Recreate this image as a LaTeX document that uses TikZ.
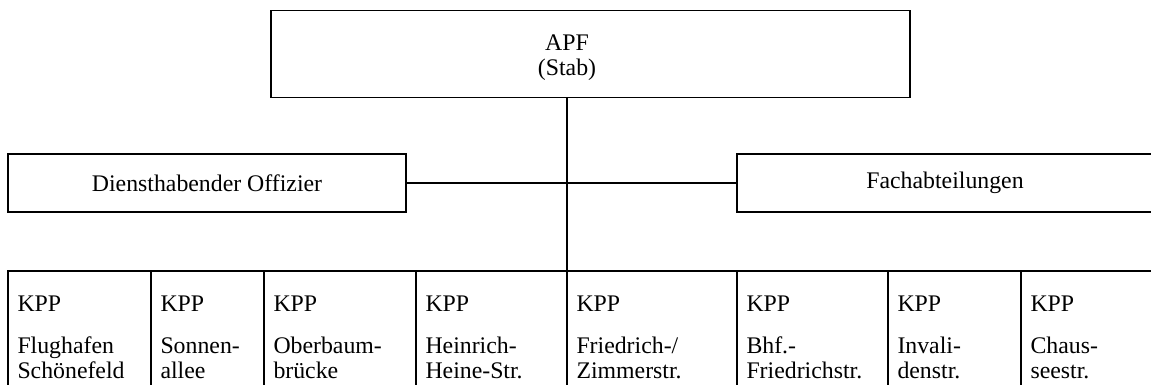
\documentclass[tikz,border=0pt]{standalone}
\usepackage{fontspec}
\setmainfont{Liberation Serif}
\begin{document}
\begin{tikzpicture}[x=1pt,y=-1pt,
  box/.style={draw,line width=1.6pt,rectangle,inner sep=0pt,outer sep=0pt},
  txt/.style={inner sep=0pt,outer sep=0pt,font=\fontsize{23.8}{24.5}\selectfont},
  rule/.style={line width=1.6pt}]
\useasboundingbox (0,0) rectangle (1151,385);
\clip (0,0) rectangle (1151,385);

% top: staff
\node[box,minimum width=639pt,minimum height=87pt] (apf) at (590.5,54) {};
\node[txt,align=center,anchor=north] (apftext) at (567,35) {APF\\(Stab)};

% middle row
\node[box,minimum width=398pt,minimum height=58pt,txt,draw] (dho) at (207,183)
  {Diensthabender Offizier};
\node[box,minimum width=416pt,minimum height=58pt,txt,draw] (fach) at (945,183)
  {Fachabteilungen};
\draw[rule] (dho.east) -- (fach.west);

% bottom row: border posts
\foreach \i/\l/\r/\name in {
  1/8/151/{Flughafen\\Schönefeld},
  2/151/264/{Sonnen-\\allee},
  3/264/416/{Oberbaum-\\brücke},
  4/416/567/{Heinrich-\\Heine-Str.},
  5/567/737/{Friedrich-/\\Zimmerstr.},
  6/737/888/{Bhf.-\\Friedrichstr.},
  7/888/1021/{Invali-\\denstr.},
  8/1021/1153/{Chaus-\\seestr.}}{
  \pgfmathsetmacro{\cx}{(\l+\r)/2}
  \pgfmathsetmacro{\w}{\r-\l}
  \node[box,minimum width=\w pt,minimum height=129pt] (k\i) at (\cx,335.5) {};
  \node[txt,align=left,anchor=north west] (t\i) at (\l+9.5,295.5)
    {KPP\\[18pt]\name};
}

\draw[rule] (apf.south -| k5.north west) -- (k5.north west);
\end{tikzpicture}
\end{document}
